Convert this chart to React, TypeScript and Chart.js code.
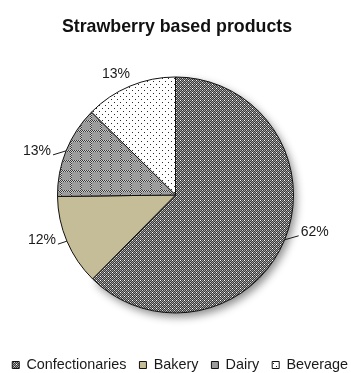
import React, { useEffect, useRef } from 'react';
import { Chart, registerables } from 'chart.js';

Chart.register(...registerables);

const TITLE = 'Strawberry based products';
const CATEGORIES = ['Confectionaries', 'Bakery', 'Dairy', 'Beverage'];
const SHARES = [62.4, 12.4, 12.6, 12.6];

// label placement tweaks relative to the slice edge (layout only)
const LABEL_NUDGE = [[2, -8], [3, -1], [-1, 0], [14, -12]];
const LEADER = [true, true, true, false];

const FONT = '"Liberation Sans", Arial, sans-serif';
const TEXT = '#1a1a1a';

function makePattern(ctx: CanvasRenderingContext2D, rows: string[], palette: Record<string, string>) {
  const h = rows.length;
  const w = rows[0].length;
  const c = document.createElement('canvas');
  c.width = w;
  c.height = h;
  const g = c.getContext('2d')!;
  for (let y = 0; y < h; y++) {
    for (let x = 0; x < w; x++) {
      g.fillStyle = palette[rows[y][x]];
      g.fillRect(x, y, 1, 1);
    }
  }
  return ctx.createPattern(c, 'repeat') as CanvasPattern;
}

const shadowPlugin = {
  id: 'sliceShadow',
  beforeDatasetsDraw(chart: any) {
    const meta = chart.getDatasetMeta(0);
    const arc = meta.data[0];
    if (!arc) return;
    const { x, y, startAngle, endAngle, outerRadius } = arc.getProps(['x', 'y', 'startAngle', 'endAngle', 'outerRadius'], true);
    const ctx = chart.ctx;
    ctx.save();
    ctx.shadowColor = 'rgba(0,0,0,0.45)';
    ctx.shadowBlur = 8;
    ctx.shadowOffsetX = 3;
    ctx.shadowOffsetY = 4;
    ctx.beginPath();
    ctx.moveTo(x, y);
    ctx.arc(x, y, outerRadius, startAngle, endAngle);
    ctx.closePath();
    ctx.fillStyle = '#ffffff';
    ctx.fill();
    ctx.restore();
  },
};

const labelPlugin = {
  id: 'pieLabels',
  afterDatasetsDraw(chart: any) {
    const ctx = chart.ctx;
    const meta = chart.getDatasetMeta(0);
    const values: number[] = chart.data.datasets[0].data;
    const total = values.reduce((a, b) => a + b, 0);
    ctx.save();
    ctx.font = `14px ${FONT}`;
    ctx.fillStyle = TEXT;
    ctx.strokeStyle = TEXT;
    ctx.lineWidth = 1;
    meta.data.forEach((arc: any, i: number) => {
      const { x, y, startAngle, endAngle, outerRadius } = arc.getProps(['x', 'y', 'startAngle', 'endAngle', 'outerRadius'], true);
      const mid = (startAngle + endAngle) / 2;
      const cos = Math.cos(mid);
      const sin = Math.sin(mid);
      const ex = x + cos * outerRadius;
      const ey = y + sin * outerRadius;
      const side = cos >= 0 ? 1 : -1;
      const ax = ex + side * 14 + LABEL_NUDGE[i][0];
      const ay = ey + LABEL_NUDGE[i][1];
      if (LEADER[i]) {
        ctx.beginPath();
        ctx.moveTo(ex, ey);
        ctx.lineTo(ax - side * 2, ay + 4);
        ctx.stroke();
      }
      ctx.textAlign = side > 0 ? 'left' : 'right';
      ctx.textBaseline = 'middle';
      ctx.fillText(Math.round((values[i] / total) * 100) + '%', ax, ay);
    });
    ctx.restore();
  },
};

export default function App() {
  const canvasRef = useRef<HTMLCanvasElement | null>(null);

  useEffect(() => {
    document.body.style.margin = '0';
    const canvas = canvasRef.current!;
    const ctx = canvas.getContext('2d')!;

    const confPattern = makePattern(ctx, ['WKGK', 'KGKG', 'GKLK', 'KGKG'], {
      W: '#ffffff', K: '#383838', G: '#999999', L: '#d0d0d0',
    });
    const dairyPattern = makePattern(
      ctx,
      [
        'KLKLKLKLKL',
        'LKLKLKLKLK',
        'KLGGGGGGGG',
        'LKGGGGGGGG',
        'KLGGGGGGGG',
        'LKGGGGGGGG',
        'KLGGGGGGGG',
        'LKGGGGGGGG',
        'KLGGGGGGGG',
        'LKGGGGGGGG',
      ],
      { K: '#3a3a3a', L: '#cfcfcf', G: '#9c9c9c' }
    );
    const bevPattern = makePattern(ctx, ['K.....', '......', '......', '...K..', '......', '......'], {
      K: '#2a2a2a', '.': '#ffffff',
    });

    const chart = new Chart(canvas, {
      type: 'pie',
      data: {
        labels: CATEGORIES,
        datasets: [
          {
            data: SHARES,
            backgroundColor: [confPattern, '#C4BD97', dairyPattern, bevPattern],
            borderColor: '#111111',
            borderWidth: 1,
            hoverOffset: 0,
            radius: 118,
          } as any,
        ],
      },
      options: {
        responsive: true,
        maintainAspectRatio: false,
        animation: false,
        layout: { padding: { left: -7, right: -10, top: 0, bottom: -9.2 } },
        plugins: {
          title: {
            display: true,
            text: TITLE,
            color: '#111111',
            font: { family: FONT, size: 17.8, weight: 'bold' },
            padding: { top: 16.3, bottom: 7.5 },
          },
          legend: {
            display: true,
            position: 'bottom',
            align: 'end',
            labels: {
              color: TEXT,
              font: { family: FONT, size: 14.4 },
              boxWidth: 7,
              boxHeight: 7,
              padding: 13,
            },
          },
          tooltip: { enabled: false },
        },
      },
      plugins: [shadowPlugin, labelPlugin],
    });

    return () => chart.destroy();
  }, []);

  return (
    <div style={{ width: 351, height: 373, position: 'relative' }}>
      <canvas ref={canvasRef} />
    </div>
  );
}
